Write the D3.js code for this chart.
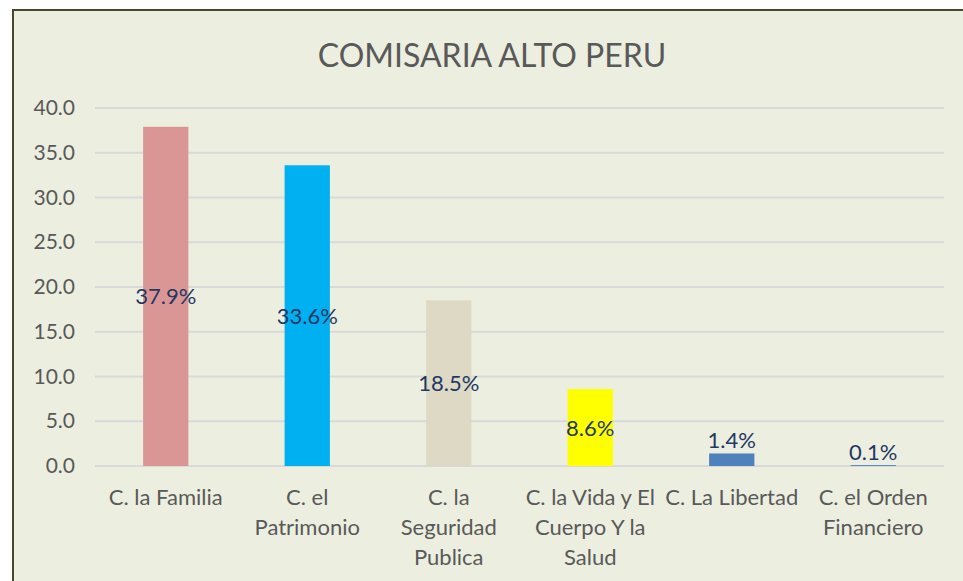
<!DOCTYPE html>
<html>
<head>
<meta charset="utf-8">
<script src="https://cdn.jsdelivr.net/npm/d3@7"></script>
<style>
  body { margin: 0; background: #fff; }
  text { font-family: Lato, "Open Sans", sans-serif; }
</style>
</head>
<body>
<div id="chart"></div>
<script>
var title = 'COMISARIA ALTO PERU';
var categories = [
  ['C. la Familia'],
  ['C. el', 'Patrimonio'],
  ['C. la', 'Seguridad', 'Publica'],
  ['C. la Vida y El', 'Cuerpo Y la', 'Salud'],
  ['C. La Libertad'],
  ['C. el Orden', 'Financiero']
];
var values = [37.9, 33.6, 18.5, 8.6, 1.4, 0.1];
var colors = ['#DA9694', '#00B0F0', '#DDD9C4', '#FFFF00', '#4F81BD', '#4F81BD'];
var yTicks = [0, 5, 10, 15, 20, 25, 30, 35, 40];

var width = 963, height = 581;
var margin = { left: 95, right: 19, top: 108, bottom: 115 };

var svg = d3.select('#chart').append('svg')
  .attr('width', width).attr('height', height);

// chart area with border
svg.append('rect')
  .attr('x', 13).attr('y', 10)
  .attr('width', width + 10).attr('height', height + 10)
  .attr('fill', '#ECEFDF')
  .attr('stroke', '#4A4530').attr('stroke-width', 2);

svg.append('text')
  .attr('x', 492).attr('y', 67)
  .attr('text-anchor', 'middle')
  .attr('font-size', 32)
  .attr('fill', '#595959')
  .text(title);

var x = d3.scaleBand()
  .domain(d3.range(categories.length))
  .range([margin.left, width - margin.right])
  .paddingInner(0.68).paddingOuter(0.34);

var y = d3.scaleLinear()
  .domain([0, 40])
  .range([height - margin.bottom, margin.top]);

// gridlines
svg.append('g').selectAll('line')
  .data(yTicks).enter().append('line')
  .attr('x1', margin.left).attr('x2', width - margin.right)
  .attr('y1', function(d) { return y(d); })
  .attr('y2', function(d) { return y(d); })
  .attr('stroke', '#D9D9D9').attr('stroke-width', 2);

// y axis labels
var yAxis = d3.axisLeft(y).tickValues(yTicks)
  .tickFormat(d3.format('.1f')).tickSize(0).tickPadding(20);
var gy = svg.append('g')
  .attr('transform', 'translate(' + margin.left + ',0)')
  .call(yAxis);
gy.select('.domain').remove();
gy.selectAll('text')
  .attr('font-size', 21).attr('fill', '#595959')
  .style('font-family', 'Lato, "Open Sans", sans-serif');

// bars
svg.append('g').selectAll('rect')
  .data(values).enter().append('rect')
  .attr('x', function(d, i) { return x(i); })
  .attr('width', x.bandwidth())
  .attr('y', function(d) { return y(d); })
  .attr('height', function(d) { return y(0) - y(d); })
  .attr('fill', function(d, i) { return colors[i]; });

// value labels
svg.append('g').selectAll('text')
  .data(values).enter().append('text')
  .attr('x', function(d, i) { return x(i) + x.bandwidth() / 2; })
  .attr('y', function(d) {
    var h = y(0) - y(d);
    if (h < 25) return y(d) - 5;
    return (y(d) + y(0)) / 2 + 8;
  })
  .attr('text-anchor', 'middle')
  .attr('font-size', 22)
  .attr('fill', '#1F3864')
  .text(function(d) { return d3.format('.1f')(d) + '%'; });

// category labels
var gx = svg.append('g');
categories.forEach(function(lines, i) {
  var t = gx.append('text')
    .attr('x', x(i) + x.bandwidth() / 2)
    .attr('y', y(0) + 39)
    .attr('text-anchor', 'middle')
    .attr('font-size', 22)
    .attr('fill', '#595959');
  lines.forEach(function(l, j) {
    t.append('tspan')
      .attr('x', x(i) + x.bandwidth() / 2)
      .attr('dy', j === 0 ? 0 : 30)
      .text(l);
  });
});
</script>
</body>
</html>
